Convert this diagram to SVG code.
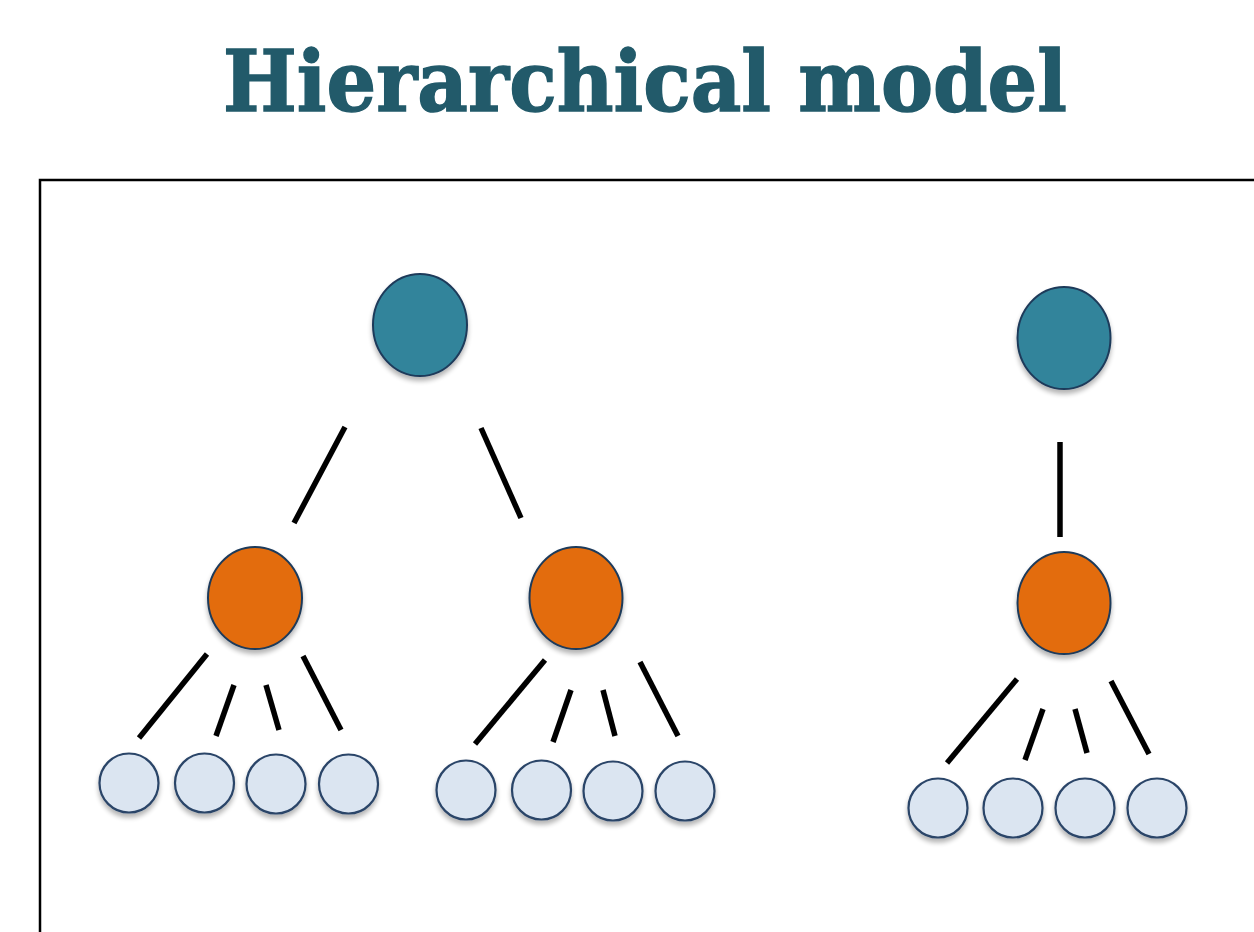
<svg xmlns="http://www.w3.org/2000/svg" width="1254" height="932" viewBox="0 0 1254 932">
<style>
.title{font-family:"DejaVu Serif","Liberation Serif",serif;font-weight:bold;font-size:84px;fill:#225a6a;stroke:#225a6a;stroke-width:1.5}
.root{fill:#31849b;stroke:#1f3a5a;stroke-width:2}
.mid{fill:#e36c0a;stroke:#1f3a5a;stroke-width:2}
.leaf{fill:#dbe5f1;stroke:#2a4468;stroke-width:2.2}
.edge{stroke:#000;stroke-width:5.5;fill:none}
</style>
<defs>
<filter id="sh" x="-30%" y="-30%" width="160%" height="170%">
<feGaussianBlur in="SourceAlpha" stdDeviation="2.5"/>
<feOffset dx="0" dy="4" result="b"/>
<feComponentTransfer><feFuncA type="linear" slope="0.3"/></feComponentTransfer>
<feMerge><feMergeNode/><feMergeNode in="SourceGraphic"/></feMerge>
</filter>
</defs>
<rect width="1254" height="932" fill="#fff"/>
<text class="title" x="645" y="111" text-anchor="middle" textLength="844" lengthAdjust="spacingAndGlyphs">Hierarchical model</text>
<path d="M40,940 V180 H1260" fill="none" stroke="#000" stroke-width="2.5"/>
<g id="connectors">
<line class="edge" x1="345" y1="427" x2="294" y2="523"/>
<line class="edge" x1="481" y1="428" x2="521" y2="518"/>
<line class="edge" x1="1060" y1="442" x2="1060" y2="537"/>
<line class="edge" x1="207" y1="654" x2="139" y2="738"/>
<line class="edge" x1="234" y1="685" x2="216" y2="736"/>
<line class="edge" x1="266" y1="685" x2="279" y2="730"/>
<line class="edge" x1="303" y1="656" x2="341" y2="730"/>
<line class="edge" x1="545" y1="660" x2="475" y2="744"/>
<line class="edge" x1="571" y1="690" x2="553" y2="742"/>
<line class="edge" x1="603" y1="690" x2="615" y2="736"/>
<line class="edge" x1="640" y1="662" x2="678" y2="736"/>
<line class="edge" x1="1017" y1="679" x2="947" y2="763"/>
<line class="edge" x1="1043" y1="709" x2="1025" y2="760"/>
<line class="edge" x1="1075" y1="709" x2="1087" y2="753"/>
<line class="edge" x1="1111" y1="681" x2="1149" y2="754"/>
</g>
<g id="root1" filter="url(#sh)"><ellipse class="root" cx="420" cy="325" rx="47" ry="51"/></g>
<g id="root2" filter="url(#sh)"><ellipse class="root" cx="1064" cy="338" rx="46.5" ry="51"/></g>
<g id="mid1" filter="url(#sh)"><ellipse class="mid" cx="255" cy="598" rx="47" ry="51"/></g>
<g id="mid2" filter="url(#sh)"><ellipse class="mid" cx="576" cy="598" rx="46.5" ry="51"/></g>
<g id="mid3" filter="url(#sh)"><ellipse class="mid" cx="1064" cy="603" rx="46.5" ry="51"/></g>
<g id="leaf1a" filter="url(#sh)"><circle class="leaf" cx="129" cy="783" r="29.5"/></g>
<g id="leaf1b" filter="url(#sh)"><circle class="leaf" cx="204.5" cy="783" r="29.5"/></g>
<g id="leaf1c" filter="url(#sh)"><circle class="leaf" cx="276" cy="784" r="29.5"/></g>
<g id="leaf1d" filter="url(#sh)"><circle class="leaf" cx="348.5" cy="784" r="29.5"/></g>
<g id="leaf2a" filter="url(#sh)"><circle class="leaf" cx="466" cy="790" r="29.5"/></g>
<g id="leaf2b" filter="url(#sh)"><circle class="leaf" cx="541.5" cy="790" r="29.5"/></g>
<g id="leaf2c" filter="url(#sh)"><circle class="leaf" cx="613" cy="791" r="29.5"/></g>
<g id="leaf2d" filter="url(#sh)"><circle class="leaf" cx="685" cy="791" r="29.5"/></g>
<g id="leaf3a" filter="url(#sh)"><circle class="leaf" cx="938" cy="808" r="29.5"/></g>
<g id="leaf3b" filter="url(#sh)"><circle class="leaf" cx="1013" cy="808" r="29.5"/></g>
<g id="leaf3c" filter="url(#sh)"><circle class="leaf" cx="1085" cy="808" r="29.5"/></g>
<g id="leaf3d" filter="url(#sh)"><circle class="leaf" cx="1157" cy="808" r="29.5"/></g>
</svg>
